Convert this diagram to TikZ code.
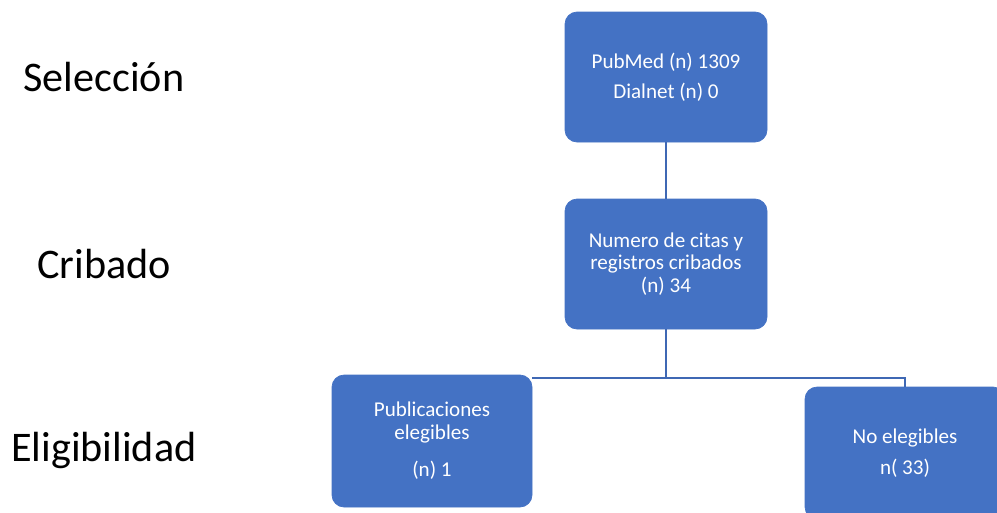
\documentclass[tikz,border=0pt]{standalone}
\usepackage{fontspec}
\setmainfont{Carlito}
\usepackage{tikz}
\usetikzlibrary{positioning,calc}
\usepackage{xcolor}
\definecolor{boxBlue}{HTML}{4472C4}
\definecolor{linkBlue}{HTML}{3F68B4}

\begin{document}
\begin{tikzpicture}[
            every node/.style={font=\fontsize{12}{13}\selectfont},
            box/.style={
                draw=boxBlue,
                fill=boxBlue,
                rounded corners=0.24cm,
                minimum width=4.04cm,
                minimum height=2.6cm,
                align=center,
                text=white
            },
            stage/.style={font=\fontsize{24}{28}\selectfont, anchor=center},
            link/.style={draw=linkBlue, line width=1.5pt}
        ]
        \useasboundingbox (0,0) rectangle (19.94,-10.24);
        \clip (0,0) rectangle (19.94,-10.24);

        %---------------- Stage labels ----------------%
        \node[stage] (sel) at (2.08,-1.54) {Selección};
        \node[stage] (crib) at (2.08,-5.28) {Cribado};
        \node[stage] (eleg) at (2.08,-9.0) {Eligibilidad};

        %---------------- Boxes ----------------%
        \node[box] (search) at (13.32,-1.54) {PubMed (n) 1309\\[4pt]Dialnet (n) 0};
        \node[box] (screen) at (13.32,-5.28) {Numero de citas y\\registros cribados\\(n) 34};
        \node[box, minimum width=4.0cm, minimum height=2.64cm] (incl) at (8.64,-8.82)
              {Publicaciones\\elegibles\\[8pt](n) 1};
        \node[box, minimum width=4.0cm, minimum height=2.64cm] (excl) at (18.1,-9.06)
              {No elegibles\\[5pt]n( 33)};

        %================ Connectors =================%
        \coordinate (split) at (13.32,-7.56);
        \draw[link] (search) -- (screen);
        \draw[link] (screen) -- (split);
        \draw[link] (split) -- (split -| incl.east);
        \draw[link] (split) -| (excl.north);

        \end{tikzpicture}
\end{document}
